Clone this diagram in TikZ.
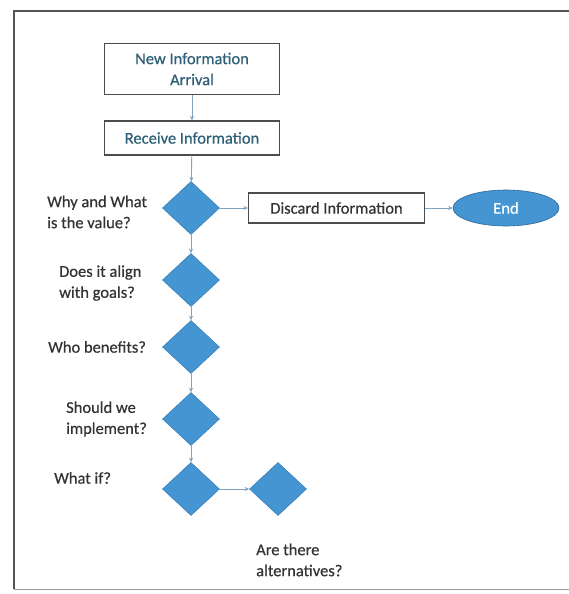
\documentclass[tikz,border=0pt]{standalone}
\usepackage{fontspec}
\setmainfont{Carlito}
\newfontfamily\medfont{Carlito}[FakeBold=0.5]
\usetikzlibrary{shapes.geometric,arrows.meta}
\definecolor{dblue}{HTML}{4595D3}
\definecolor{dedge}{HTML}{3A80BC}
\definecolor{boxtxt}{HTML}{2D5F76}
\definecolor{lbltxt}{HTML}{333333}
\definecolor{conn}{HTML}{7FA3BE}
\definecolor{frame}{HTML}{555555}
\tikzset{
  every node/.style={font=\medfont\fontsize{16.5}{21}\selectfont},
  procbox/.style={draw=frame!90!black, line width=1.1pt, rectangle, text=boxtxt, align=center, inner sep=0pt},
  decision/.style={diamond, draw=dedge, fill=dblue, line width=0.6pt, minimum width=57pt, minimum height=53pt, inner sep=0pt, aspect=1},
  endnode/.style={ellipse, draw=dedge!80!black, fill=dblue, line width=0.6pt, minimum width=106pt, minimum height=36pt, inner sep=0pt, text=white},
  lbl/.style={anchor=west, align=left, inner sep=0pt, text=lbltxt},
  link/.style={draw=conn, line width=0.9pt, -{Stealth[length=4.5pt,width=4pt]}}
}
\begin{document}
\begin{tikzpicture}[x=1pt,y=-1pt]
\useasboundingbox (0,0) rectangle (569,594);
\fill[white] (0,0) rectangle (569,594);
\draw[frame, line width=1.2pt] (569,11) -- (14,11) -- (14,589);
\draw[frame!60, line width=1pt] (14,589) -- (569,589);

\node[procbox, minimum width=175pt, minimum height=51pt] (n1) at (192,69) {New Information\\Arrival};
\node[procbox, minimum width=175pt, minimum height=34pt] (n2) at (192,138) {Receive Information};
\node[decision] (d1) at (191,208) {};
\node[procbox, minimum width=176pt, minimum height=30pt, text=lbltxt] (dis) at (336.5,208) {Discard Information};
\node[endnode] (end) at (506,208) {End};
\node[decision] (d2) at (191,280) {};
\node[decision] (d3) at (191,347) {};
\node[decision] (d4) at (191,419) {};
\node[decision] (d5) at (191,489) {};
\node[decision] (d6) at (278,489) {};

\node[lbl] (l1) at (47,212) {Why and What\\is the value?};
\node[lbl] (l2) at (59,283) {Does it align\\with goals?};
\node[lbl] (l3) at (48,347) {Who benefits?};
\node[lbl] (l4) at (66,419) {Should we\\implement?};
\node[lbl] (l5) at (54,478) {What if?};
\node[lbl] (l6) at (256,560) {Are there\\alternatives?};

\draw[link] (n1) -- (n2);
\draw[link] (n2) -- (d1);
\draw[link] (d1) -- (dis);
\draw[link] (dis) -- (end);
\draw[link] (d1) -- (d2);
\draw[link] (d2) -- (d3);
\draw[link] (d3) -- (d4);
\draw[link] (d4) -- (d5);
\draw[link] (d5) -- (d6);
\end{tikzpicture}
\end{document}
